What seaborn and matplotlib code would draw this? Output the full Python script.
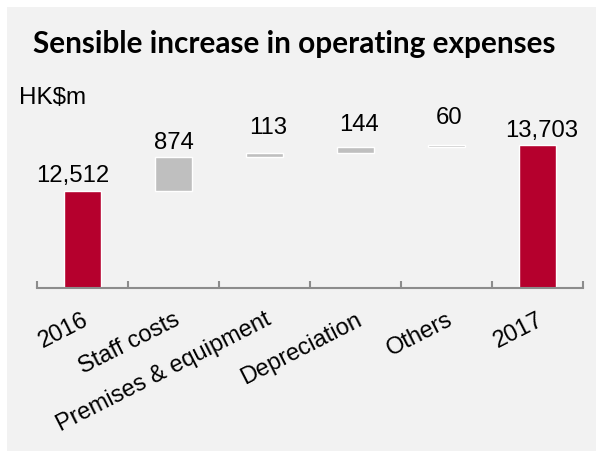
import matplotlib
matplotlib.use("Agg")
import matplotlib.pyplot as plt
from matplotlib.patches import Rectangle
from matplotlib.ticker import FixedLocator
import pandas as pd
import seaborn as sns

# Operating expenses bridge, HK$m
items = ["2016", "Staff costs", "Premises & equipment", "Depreciation", "Others", "2017"]
start_total = 12512
changes = [874, 113, 144, 60]
end_total = 13703
value_labels = ["12,512", "874", "113", "144", "60", "13,703"]

RED = "#b5002d"
GREY = "#bfbfbf"
PANEL = "#f2f2f2"
AXIS = "#8c8c8c"

sns.set_theme(style="white")
plt.rcParams["font.family"] = ["Liberation Sans", "DejaVu Sans"]

# Floating segments: each change sits on the running total
change_items = items[1:-1]
bases = []
running = start_total
for c in changes:
    bases.append(running)
    running += c
totals_df = pd.DataFrame({"item": [items[0], items[-1]], "value": [start_total, end_total]})
changes_df = pd.DataFrame({"item": change_items, "change": changes, "base": bases})

W, H = 596, 458
fig = plt.figure(figsize=(W / 100, H / 100), dpi=100)
fig.patch.set_facecolor("white")
fig.patches.append(Rectangle((7 / W, 1 - 451 / H), (W - 7) / W, 444 / H,
                             transform=fig.transFigure, facecolor=PANEL,
                             edgecolor="none", zorder=-1))

ax = fig.add_axes([37 / W, 1 - 288 / H, 546 / W, 188 / H])
ax.set_facecolor("none")

sns.barplot(data=totals_df, x="item", y="value", order=items, color=RED,
            width=0.4, errorbar=None, saturation=1, ax=ax)
sns.barplot(data=changes_df, x="item", y="change", order=items, color=GREY,
            width=0.4, errorbar=None, saturation=1, bottom=changes_df["base"],
            ax=ax)

ax.set_xlim(-0.5, len(items) - 0.5)
ax.set_ylim(10000, 14860)
ax.set_xlabel("")
ax.set_ylabel("")
ax.set_yticks([])
for side in ("left", "right", "top"):
    ax.spines[side].set_visible(False)
ax.spines["bottom"].set_color(AXIS)
ax.spines["bottom"].set_linewidth(1.5)

# Category boundary tick marks
ax.xaxis.set_minor_locator(FixedLocator([i - 0.5 for i in range(len(items) + 1)]))
ax.tick_params(axis="x", which="minor", direction="in", length=5, width=1.5,
               color=AXIS, bottom=True)
ax.tick_params(axis="x", which="major", length=0, pad=15, labelsize=17,
               labelcolor="black")
ax.set_xticks(range(len(items)))
ax.set_xticklabels(items, rotation=27, ha="right", rotation_mode="anchor")

# Value labels above each bar
tops = [start_total] + [b + c for b, c in zip(bases, changes)] + [end_total]
label_offsets = [(-7, 6.5), (0.4, 5.8), (2.7, 13.7), (2.5, 11.5), (2.2, 15), (3, 5.8)]
for i, (top, text, (dx, dy)) in enumerate(zip(tops, value_labels, label_offsets)):
    ax.annotate(text, xy=(i, top), xytext=(dx, dy), textcoords="offset points",
                ha="center", va="baseline", fontsize=17.2, color="black",
                annotation_clip=False)

fig.text(33 / W, 1 - 53 / H, "Sensible increase in operating expenses",
         ha="left", va="baseline", fontsize=21.4, fontweight="bold",
         family=["Lato", "DejaVu Sans"], color="black")
fig.text(19 / W, 1 - 104 / H, "HK$m", ha="left", va="baseline",
         fontsize=17.5, color="black")

fig.savefig("out.png", dpi=100, facecolor=fig.get_facecolor())
